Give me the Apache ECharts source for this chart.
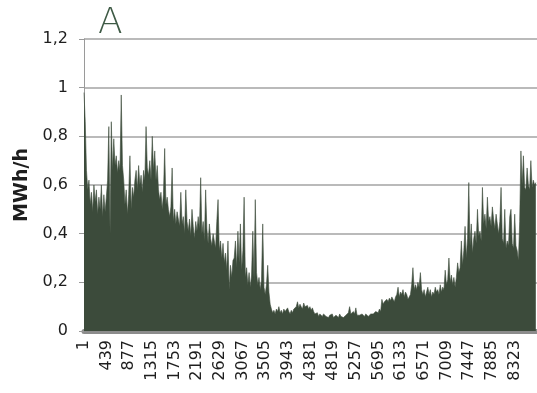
<!DOCTYPE html>
<html>
<head>
<meta charset="utf-8">
<script src="https://cdn.jsdelivr.net/npm/echarts@6/dist/echarts.min.js"></script>
<style>
  html, body { margin: 0; padding: 0; background: #fff; }
  #chart { width: 537px; height: 393px; }
</style>
</head>
<body>
<div id="chart"></div>
<script>
const HOURS_PER_SAMPLE = 24;
const dailyLoad = [
  0.98, 0.86, 0.66, 0.58, 0.62, 0.52, 0.57, 0.49, 0.60, 0.53, 0.58, 0.48, 0.55, 0.50, 0.60, 0.47, 0.56, 0.49, 0.55, 0.62,
  0.84, 0.40, 0.86, 0.66, 0.79, 0.68, 0.72, 0.65, 0.70, 0.66, 0.97, 0.68, 0.62, 0.52, 0.58, 0.48, 0.56, 0.72, 0.50, 0.59,
  0.55, 0.62, 0.66, 0.58, 0.68, 0.60, 0.64, 0.57, 0.66, 0.62, 0.84, 0.67, 0.64, 0.70, 0.62, 0.80, 0.66, 0.74, 0.62, 0.68,
  0.58, 0.54, 0.57, 0.50, 0.56, 0.75, 0.52, 0.55, 0.50, 0.47, 0.51, 0.67, 0.45, 0.50, 0.44, 0.49, 0.46, 0.43, 0.57, 0.44,
  0.47, 0.40, 0.58, 0.45, 0.41, 0.46, 0.39, 0.50, 0.43, 0.38, 0.45, 0.41, 0.47, 0.42, 0.63, 0.40, 0.45, 0.37, 0.58, 0.42,
  0.36, 0.44, 0.38, 0.35, 0.40, 0.40, 0.34, 0.45, 0.54, 0.33, 0.37, 0.30, 0.36, 0.28, 0.32, 0.25, 0.37, 0.17, 0.27, 0.22,
  0.29, 0.30, 0.37, 0.26, 0.41, 0.28, 0.44, 0.25, 0.33, 0.55, 0.22, 0.26, 0.19, 0.24, 0.18, 0.23, 0.41, 0.21, 0.54, 0.24,
  0.19, 0.22, 0.17, 0.21, 0.44, 0.18, 0.15, 0.19, 0.27, 0.16, 0.11, 0.09, 0.075, 0.085, 0.07, 0.09, 0.08, 0.10, 0.075, 0.085,
  0.07, 0.09, 0.08, 0.075, 0.095, 0.08, 0.07, 0.085, 0.075, 0.09, 0.09, 0.10, 0.12, 0.095, 0.11, 0.10, 0.09, 0.115, 0.10, 0.095,
  0.105, 0.09, 0.10, 0.085, 0.095, 0.08, 0.07, 0.065, 0.075, 0.06, 0.07, 0.065, 0.06, 0.07, 0.065, 0.06, 0.06, 0.055, 0.065, 0.06,
  0.07, 0.055, 0.06, 0.065, 0.06, 0.055, 0.07, 0.06, 0.065, 0.055, 0.06, 0.065, 0.07, 0.075, 0.10, 0.07, 0.065, 0.08, 0.07, 0.095,
  0.065, 0.07, 0.065, 0.06, 0.07, 0.065, 0.06, 0.07, 0.065, 0.06, 0.065, 0.07, 0.065, 0.07, 0.075, 0.08, 0.085, 0.075, 0.09, 0.08,
  0.13, 0.11, 0.12, 0.115, 0.13, 0.12, 0.135, 0.125, 0.14, 0.13, 0.12, 0.14, 0.15, 0.18, 0.14, 0.16, 0.15, 0.17, 0.14, 0.16,
  0.15, 0.13, 0.14, 0.15, 0.19, 0.26, 0.17, 0.19, 0.17, 0.20, 0.18, 0.24, 0.17, 0.15, 0.17, 0.14, 0.16, 0.18, 0.15, 0.17,
  0.14, 0.16, 0.15, 0.18, 0.16, 0.17, 0.15, 0.19, 0.16, 0.18, 0.17, 0.25, 0.19, 0.21, 0.30, 0.20, 0.23, 0.19, 0.22, 0.18,
  0.22, 0.28, 0.24, 0.26, 0.37, 0.27, 0.33, 0.43, 0.30, 0.38, 0.61, 0.35, 0.44, 0.32, 0.38, 0.41, 0.36, 0.50, 0.39, 0.41,
  0.37, 0.59, 0.44, 0.48, 0.42, 0.55, 0.45, 0.47, 0.43, 0.51, 0.46, 0.42, 0.48, 0.44, 0.40, 0.45, 0.59, 0.38, 0.36, 0.50,
  0.34, 0.37, 0.35, 0.47, 0.50, 0.36, 0.34, 0.48, 0.35, 0.33, 0.29, 0.45, 0.74, 0.60, 0.72, 0.59, 0.58, 0.67, 0.60, 0.58,
  0.70, 0.59, 0.62, 0.60, 0.61
];

const HOUR_FIRST = 1;
const HOUR_LAST = 8760;
const HOUR_TICK_STEP = 438;   // labels 1, 439, 877 ... 8323
const Y_MAX = 1.2;
const Y_STEP = 0.2;

const chart = echarts.init(document.getElementById('chart'));

const seriesData = dailyLoad.map((v, i) => [HOUR_FIRST + i * HOURS_PER_SAMPLE, v]);

const FILL = '#3c4b3b';
const TEXT = '#1e1e1e';
const FONT = 'DejaVu Sans';

chart.setOption({
    animation: false,
    title: {
        text: 'A',
        left: 93,
        top: 1,
        textStyle: { fontFamily: FONT, fontWeight: 200, fontSize: 36, color: '#3e5a45' },
    },
    grid: { left: 84, right: -8, top: 39, bottom: 62, containLabel: false },
    xAxis: {
        type: 'value',
        min: HOUR_FIRST,
        max: HOUR_LAST,
        interval: HOUR_TICK_STEP,
        offset: 3,
        axisLine: { show: true, lineStyle: { color: '#8c8c8c', width: 5 } },
        axisTick: { show: false },
        splitLine: { show: false },
        axisLabel: {
            rotate: 90,
            margin: 6,
            fontFamily: FONT,
            fontSize: 16,
            color: TEXT,
            showMaxLabel: false,
            formatter: v => ((v - HOUR_FIRST) % HOUR_TICK_STEP === 0 ? String(v) : ''),
        },
    },
    yAxis: {
        type: 'value',
        min: 0,
        max: Y_MAX,
        interval: Y_STEP,
        name: 'MWh/h',
        nameLocation: 'middle',
        nameGap: 52,
        nameTextStyle: { fontFamily: FONT, fontWeight: 'bold', fontSize: 19, color: TEXT },
        axisLine: { show: true, lineStyle: { color: '#9a9a9a', width: 1 } },
        axisTick: { show: true, length: 5, lineStyle: { color: '#9a9a9a' } },
        splitLine: { lineStyle: { color: '#a3a3a3', width: 1.5 } },
        axisLabel: {
            margin: 16,
            fontFamily: FONT,
            fontSize: 16,
            color: TEXT,
            formatter: v => String(+v.toFixed(1)).replace('.', ','),
        },
    },
    series: [{
        type: 'line',
        data: seriesData,
        symbol: 'none',
        sampling: null,
        lineStyle: { color: FILL, width: 0.6 },
        areaStyle: { color: FILL, opacity: 1 },
        z: 3,
    }],
});
</script>
</body>
</html>
